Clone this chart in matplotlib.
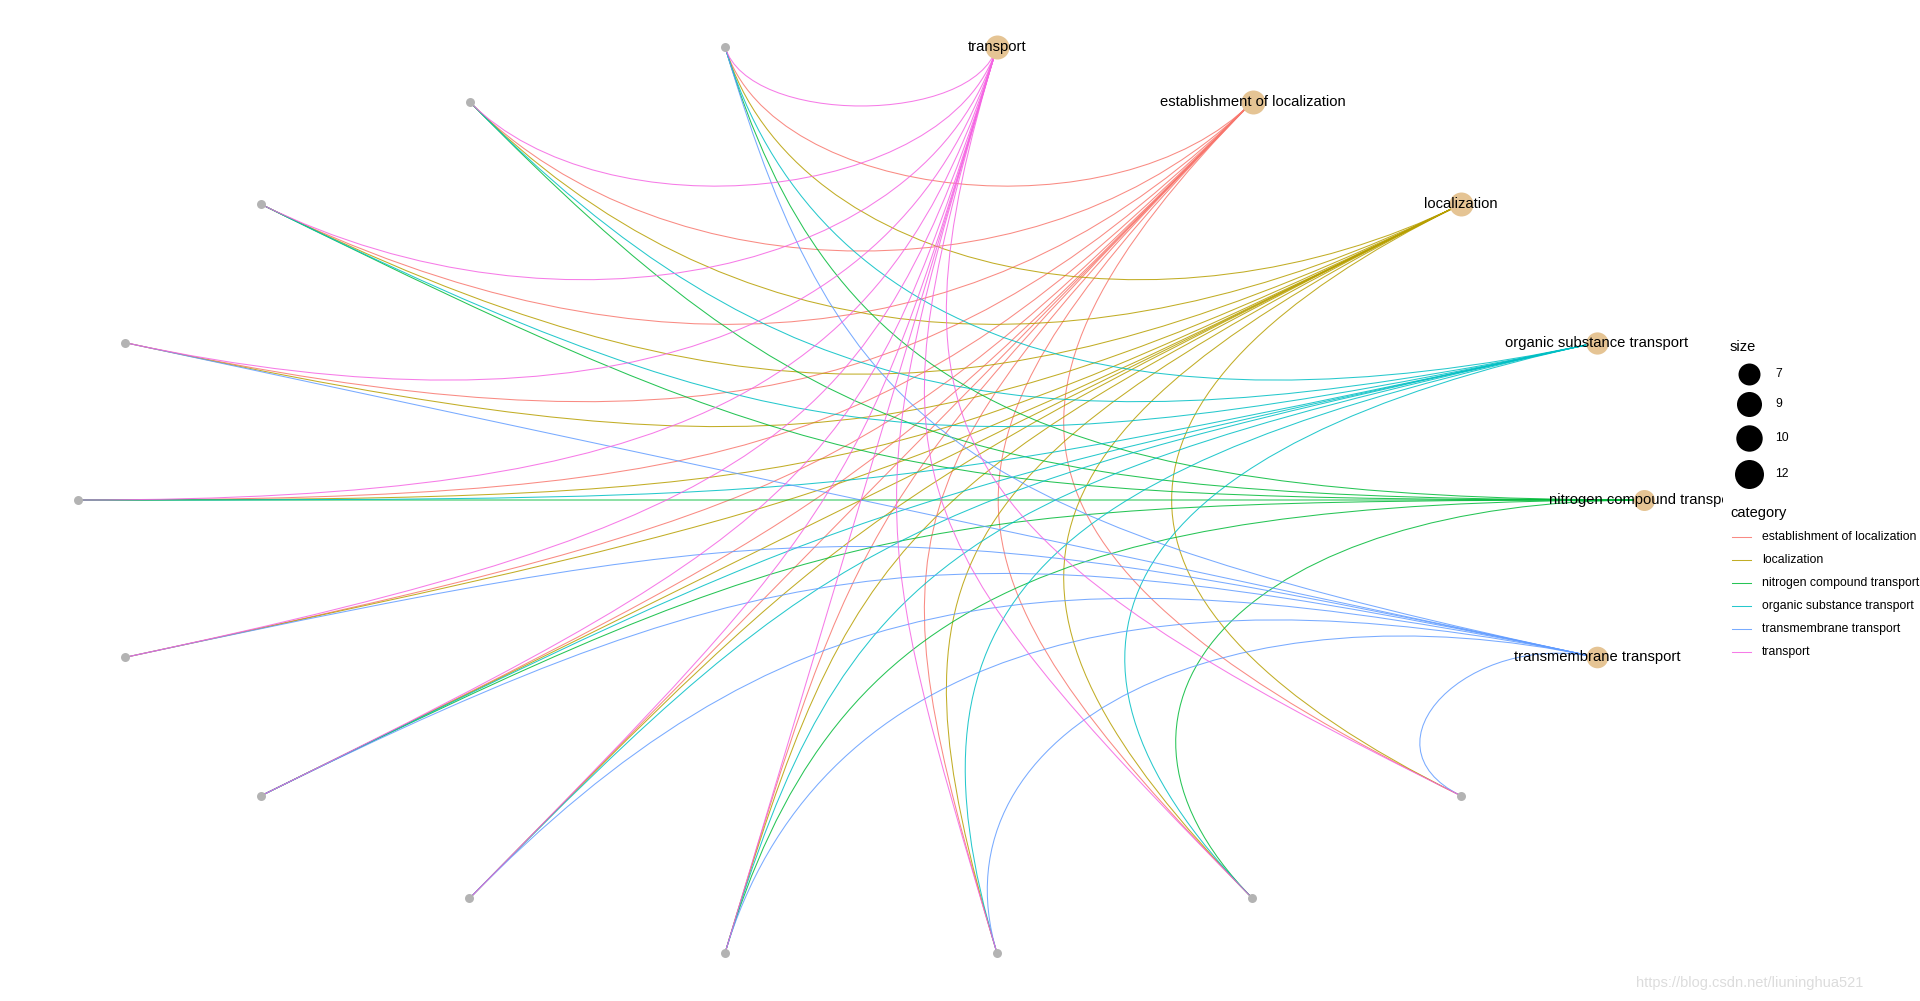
import numpy as np
import matplotlib
matplotlib.use("Agg")
import matplotlib.pyplot as plt
from matplotlib.path import Path
from matplotlib.patches import PathPatch
from matplotlib.lines import Line2D

plt.rcParams['font.family'] = ['Liberation Sans', 'DejaVu Sans']

# categories (legend order) and ggplot default hue colours
categories = ["establishment of localization", "localization", "nitrogen compound transport",
              "organic substance transport", "transmembrane transport", "transport"]
category_colors = ["#F8766D", "#B79F00", "#00BA38", "#00BFC4", "#619CFF", "#F564E3"]

genes = ["g1", "g2", "g3", "g4", "g5", "g6", "g7", "g8", "g9", "g10", "g11", "g12"]

# gene membership of each category
genes_establishment = ["g1", "g2", "g3", "g4", "g5", "g6", "g7", "g8", "g9", "g10", "g11", "g12"]
genes_localization = ["g1", "g2", "g3", "g4", "g5", "g6", "g7", "g8", "g9", "g10", "g11", "g12"]
genes_nitrogen = ["g1", "g2", "g3", "g5", "g7", "g9", "g11"]
genes_organic = ["g1", "g2", "g3", "g5", "g7", "g8", "g9", "g10", "g11"]
genes_transmembrane = ["g1", "g4", "g6", "g7", "g8", "g9", "g10", "g12"]
genes_transport = ["g1", "g2", "g3", "g4", "g5", "g6", "g7", "g8", "g9", "g10", "g11", "g12"]

gene_sets = dict(zip(categories, [genes_establishment, genes_localization, genes_nitrogen,
                                  genes_organic, genes_transmembrane, genes_transport]))

# order of the nodes around the circle, counter-clockwise from the right
node_order = ["nitrogen compound transport", "organic substance transport", "localization",
              "establishment of localization", "transport"] + genes + ["transmembrane transport"]

W, H = 1920, 1001
cx, cy, rx, ry = 861, 500, 783, 460
panel_right = 1723

fig = plt.figure(figsize=(W / 100, H / 100), dpi=100)
ax = fig.add_axes([0, 0, panel_right / W, 1])
ax.set_xlim((0 - cx) / rx, (panel_right - cx) / rx)
ax.set_ylim((cy - H) / ry, cy / ry)
ax.axis('off')

angles = 2 * np.pi * np.arange(len(node_order)) / len(node_order)
pos = {n: np.array([np.cos(a), np.sin(a)]) for n, a in zip(node_order, angles)}

# arcs bend toward the centre, more for distant nodes
for cat, col in zip(categories, category_colors):
    for g in gene_sets[cat]:
        p0, p3 = pos[g], pos[cat]
        k = 1 - np.linalg.norm(p3 - p0) / 2
        path = Path([p0, p0 * k, p3 * k, p3],
                    [Path.MOVETO, Path.CURVE4, Path.CURVE4, Path.CURVE4])
        ax.add_patch(PathPatch(path, fc='none', ec=col, lw=0.75, alpha=0.85, zorder=1))

gx = [pos[g][0] for g in genes]
gy = [pos[g][1] for g in genes]
ax.scatter(gx, gy, s=(9 * 0.72) ** 2, color='#B3B3B3', lw=0, zorder=2)

sizes = np.array([len(gene_sets[c]) for c in categories])


def plot_diam(s):
    return np.sqrt(252 + 27 * s)


for cat, s in zip(categories, sizes):
    x, y = pos[cat]
    ax.scatter([x], [y], s=(plot_diam(s) * 0.72) ** 2, color='#E5C494', lw=0, zorder=3)
    ax.text(x, y, cat, ha='center', va='center', fontsize=10.6, color='black',
            zorder=4, clip_on=True)

# legends, in pixel coordinates
lg = fig.add_axes([0, 0, 1, 1], facecolor='none')
lg.set_xlim(0, W)
lg.set_ylim(H, 0)
lg.axis('off')

breaks = np.round(np.linspace(sizes.min(), sizes.max(), 4)).astype(int)
lg.text(1730, 347, "size", fontsize=10.5, ha='left', va='center')
for b, yy in zip(breaks, [374, 404, 438, 474]):
    d = np.sqrt(-16 + 71.4 * b)
    lg.scatter([1749], [yy], s=(d * 0.72) ** 2, color='black', lw=0)
    lg.text(1775, yy, str(b), fontsize=8.8, ha='left', va='center')

lg.text(1730, 513, "category", fontsize=10.5, ha='left', va='center')
for cat, col, yy in zip(categories, category_colors, [537, 560, 583, 606, 629, 652]):
    lg.add_line(Line2D([1732, 1751], [yy, yy], color=col, lw=0.75, alpha=0.85))
    lg.text(1762, yy, cat, fontsize=8.8, ha='left', va='center')

lg.text(1863, 983, "https://blog.csdn.net/liuninghua521", fontsize=10.5,
        ha='right', va='center', color='#dcdcdc')

fig.savefig("out.png", dpi=100)
